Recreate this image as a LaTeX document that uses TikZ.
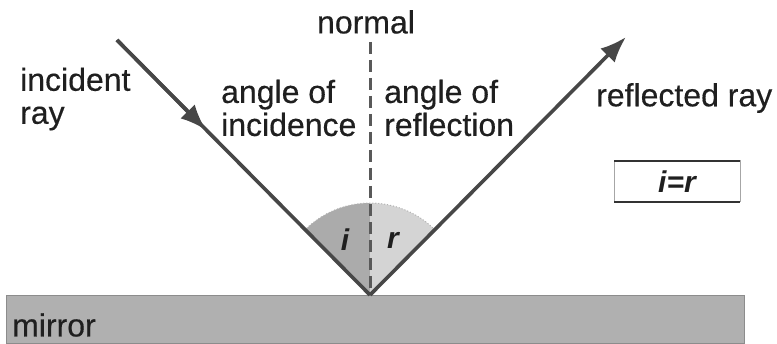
\documentclass[tikz,border=0pt]{standalone}
\usepackage{fontspec}
\setmainfont{Liberation Sans}
\usetikzlibrary{arrows.meta}
\begin{document}
\begin{tikzpicture}[x=1pt,y=1pt,
  ray/.style={draw=black!72,line width=3.6pt},
  lbl/.style={inner sep=0pt,font=\fontsize{32}{33}\selectfont\addfontfeature{FakeBold=0.4},text=black!88},
  bilbl/.style={inner sep=0pt,font=\fontsize{30}{33}\selectfont\bfseries\itshape,text=black!88},
  tip/.style={-{Latex[length=26pt,width=20pt]}}
]
\useasboundingbox (0,0) rectangle (777,343);
% mirror
\node[draw=black!45,fill=black!31,line width=1pt,minimum width=738pt,minimum height=48pt,inner sep=0pt,anchor=south west] (mirror) at (6,-1) {};
\node[lbl,anchor=west] (mirrortxt) at (12,18) {mirror};
% key points
\coordinate (V) at (370,48);
\coordinate (A) at (117,303);
\coordinate (M) at (206,213);
\coordinate (B) at (626,306);
\coordinate (N) at (370,301);
\coordinate (S1) at (304.95,113.05);
\coordinate (S2) at (370,140);
\coordinate (S3) at (435.05,113.05);
% sectors
\fill[black!33] (V) -- (S2) arc[start angle=90,end angle=135,radius=92] -- cycle;
\fill[black!17] (V) -- (S3) arc[start angle=45,end angle=90,radius=92] -- cycle;
\draw[black!30,line width=1pt,dotted] (S3) arc[start angle=45,end angle=135,radius=92];
% normal
\draw[black!65,line width=3pt,dash pattern=on 12pt off 6pt] (N) -- (V);
\node[lbl] (normal) at (366,321) {normal};
% rays
\draw[ray] (A) -- (V);
\draw[ray,tip] (A) -- (M);
\draw[ray,tip] (V) -- (B);
% labels
\node[lbl,align=left,anchor=west] (inc) at (20,244) {incident\\ray};
\node[lbl,align=left,anchor=west] (aoi) at (221,235) {angle of\\incidence};
\node[lbl,align=left,anchor=west] (aor) at (384,235) {angle of\\reflection};
\node[lbl,anchor=west] (refl) at (596,245) {reflected ray};
\node[bilbl] (i) at (345,103) {i};
\node[bilbl] (r) at (393,103) {r};
% box
\draw[black!35,line width=1pt] (614,141) rectangle (740,182);
\draw[black!80,line width=1.6pt] (614,182) -- (740,182) (614,141) -- (740,141);
\node[bilbl] (eq) at (677,161) {i=r};
\end{tikzpicture}
\end{document}
